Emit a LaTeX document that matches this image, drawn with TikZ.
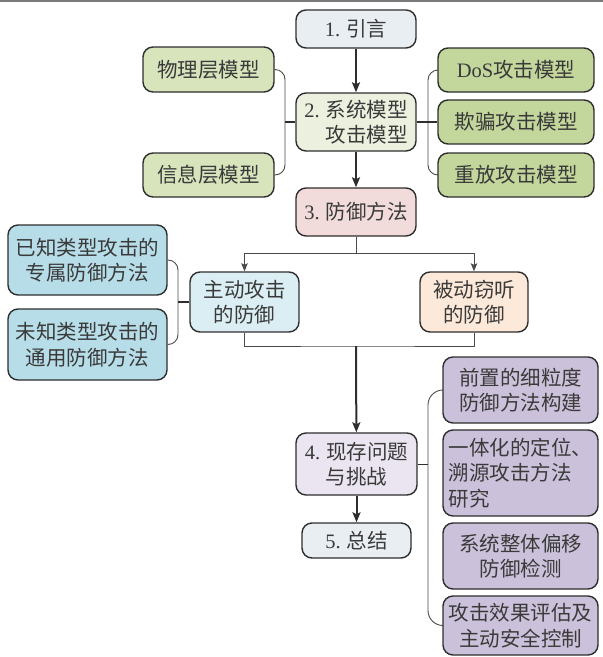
\documentclass[tikz,border=0pt]{standalone}
\usepackage{fontspec}
\setmainfont{Liberation Serif}
\newfontfamily\cjkfont{Noto Sans CJK SC}
\usetikzlibrary{arrows.meta}
\newcommand\lat[1]{{\rmfamily #1}}

\definecolor{ink}{HTML}{2E2E2E}
\definecolor{txt}{HTML}{3A3A3A}
\definecolor{wire}{HTML}{4A4A4A}
\definecolor{rule}{HTML}{7A7A7A}
\definecolor{greyblue}{HTML}{E9EEF3}
\definecolor{palegreen}{HTML}{EBF1DE}
\definecolor{olive}{HTML}{D8E4BC}
\definecolor{midgreen}{HTML}{C3D69B}
\definecolor{rose}{HTML}{F2DCDB}
\definecolor{skyblue}{HTML}{B7DDE8}
\definecolor{paleblue}{HTML}{DAEEF3}
\definecolor{peach}{HTML}{FDE9D9}
\definecolor{palelilac}{HTML}{EAE5F0}
\definecolor{lilac}{HTML}{CCC1DA}

\tikzset{
  box/.style={draw=ink, line width=1.4pt, rounded corners=10pt, inner sep=0pt,
    align=center, text=txt, font=\cjkfont\fontsize{20.5}{25.5}\selectfont},
  thinwire/.style={draw=wire, line width=0.9pt},
  midwire/.style={draw=ink, line width=1.4pt},
  boldwire/.style={draw=ink, line width=2pt},
  bigtip/.style={-{Stealth[length=10pt,width=8pt,inset=2pt]}},
  smalltip/.style={-{Stealth[length=8pt,width=6.5pt,inset=1.5pt]}}
}

\begin{document}
\begin{tikzpicture}[x=1pt,y=-1pt]
  \useasboundingbox (0,0) rectangle (603,657);
  % rule along the top edge
  \draw[rule, line width=1.5pt] (0,1) -- (603,1);

  % main column
  \node[box, fill=greyblue, minimum width=120, minimum height=38] (n1) at (356,29) {\lat{1.} 引言};
  \node[box, fill=palegreen, minimum width=120, minimum height=58, align=right] (n2) at (356,122) {\lat{2.} 系统模型\\攻击模型};
  \node[box, fill=rose, minimum width=120, minimum height=48] (n3) at (356,212) {\lat{3.} 防御方法};
  \node[box, fill=palelilac, minimum width=121, minimum height=62] (n4) at (356.5,464) {\lat{4.} 现存问题\\与挑战};
  \node[box, fill=greyblue, minimum width=109, minimum height=35] (n5) at (356.5,540.5) {\lat{5.} 总结};

  % models
  \node[box, fill=olive, minimum width=131, minimum height=45] (phys) at (208.5,69.5) {物理层模型};
  \node[box, fill=olive, minimum width=131, minimum height=44] (info) at (208.5,175) {信息层模型};
  \node[box, fill=midgreen, minimum width=156, minimum height=44] (dos) at (516,70) {\lat{DoS}攻击模型};
  \node[box, fill=midgreen, minimum width=156, minimum height=44] (spoof) at (516,122) {欺骗攻击模型};
  \node[box, fill=midgreen, minimum width=156, minimum height=44] (replay) at (516,175) {重放攻击模型};

  % defence branches
  \node[box, fill=paleblue, minimum width=109, minimum height=60] (active) at (244.5,302) {主动攻击\\的防御};
  \node[box, fill=peach, minimum width=108, minimum height=60] (passive) at (474,302) {被动窃听\\的防御};
  \node[box, fill=skyblue, minimum width=159, minimum height=70] (known) at (87.5,260) {已知类型攻击的\\专属防御方法};
  \node[box, fill=skyblue, minimum width=159, minimum height=71] (unknown) at (87.5,344.5) {未知类型攻击的\\通用防御方法};

  % open problems
  \node[box, fill=lilac, minimum width=155, minimum height=66] (p1) at (520.5,390) {前置的细粒度\\防御方法构建};
  \node[box, fill=lilac, minimum width=155, minimum height=86, align=left] (p2) at (520.5,473) {一体化的定位、\\溯源攻击方法\\研究};
  \node[box, fill=lilac, minimum width=155, minimum height=66] (p3) at (520.5,556) {系统整体偏移\\防御检测};
  \node[box, fill=lilac, minimum width=155, minimum height=59] (p4) at (520.5,625.5) {攻击效果评估及\\主动安全控制};

  % main flow
  \draw[boldwire, bigtip] (n1) -- (n2);
  \draw[boldwire, bigtip] (n2) -- (n3);

  \coordinate (split) at (356,253);
  \coordinate (merge) at (356,346);
  \draw[thinwire] (n3.south) -- (split);
  \draw[thinwire, smalltip] (split) -| (active.north);
  \draw[thinwire, smalltip] (split) -| (passive.north);
  \draw[thinwire] (active.south) |- (merge) -| (passive.south);
  \draw[boldwire, bigtip] (merge) -- (n4);
  \draw[boldwire, bigtip] (n4) -- (n5);

  % braces
  \coordinate (lb) at (285,122);
  \draw[thinwire, rounded corners=10pt] (phys.east) -| (lb) |- (info.east);
  \draw[boldwire] (lb) -- (n2.west);

  \coordinate (rb) at (428,122);
  \draw[thinwire, rounded corners=10pt] (dos.west) -| (rb) |- (replay.west);
  \draw[boldwire] (n2.east) -- (spoof.west);

  \coordinate (kb) at (178,302);
  \draw[thinwire, rounded corners=10pt] (known.east) -| (kb) |- (unknown.east);
  \draw[midwire] (kb) -- (active.west);

  \coordinate (pb) at (428,464);
  \draw[thinwire, rounded corners=15pt] (p1.west) -| (pb) |- (p4.west);
  \draw[midwire, line width=1pt] (n4.east) -- (pb);
\end{tikzpicture}
\end{document}
